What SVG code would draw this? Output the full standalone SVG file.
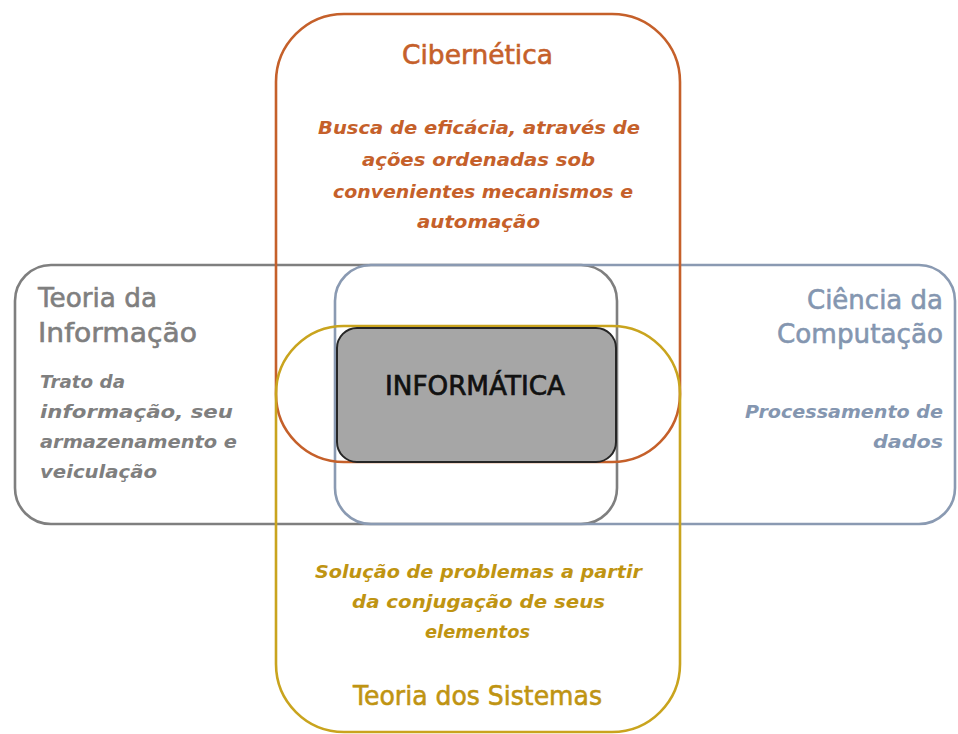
<svg xmlns="http://www.w3.org/2000/svg" width="958" height="734" viewBox="0 0 958 734">
<style>
.t{font-family:"DejaVu Sans","Liberation Sans",sans-serif;font-size:27px;stroke-width:0.6}
.d{font-family:"DejaVu Sans","Liberation Sans",sans-serif;font-size:18px;font-style:italic;font-weight:bold}
.shape{fill:none;stroke-width:2.6}
.or{fill:#C5602A;stroke:#C5602A}.go{fill:#BF9412;stroke:#BF9412}.gr{fill:#7F7F7F;stroke:#7F7F7F}.bl{fill:#8496B0;stroke:#8496B0}
.d.or,.d.go,.d.gr,.d.bl{stroke:none}
</style>
<rect width="958" height="734" fill="#ffffff"/>
<g id="teoria-informacao">
<rect class="shape" x="15" y="265" width="602" height="259" rx="36" stroke="#7F7F7F"/>
<text class="t gr" x="38" y="307" textLength="119" lengthAdjust="spacingAndGlyphs">Teoria da</text>
<text class="t gr" x="38" y="342" textLength="159" lengthAdjust="spacingAndGlyphs">Informação</text>
<text class="d gr" x="40" y="388" textLength="85" lengthAdjust="spacingAndGlyphs">Trato da</text>
<text class="d gr" x="40" y="418" textLength="193" lengthAdjust="spacingAndGlyphs">informação, seu</text>
<text class="d gr" x="40" y="448" textLength="197" lengthAdjust="spacingAndGlyphs">armazenamento e</text>
<text class="d gr" x="40" y="478" textLength="117" lengthAdjust="spacingAndGlyphs">veiculação</text>
</g>
<g id="ciencia-computacao">
<rect class="shape" x="335" y="265" width="620" height="259" rx="36" stroke="#8A9AB2"/>
<text class="t bl" x="943" y="309" text-anchor="end" textLength="136" lengthAdjust="spacingAndGlyphs">Ciência da</text>
<text class="t bl" x="943" y="343" text-anchor="end" textLength="166" lengthAdjust="spacingAndGlyphs">Computação</text>
<text class="d bl" x="943" y="418" text-anchor="end" textLength="198" lengthAdjust="spacingAndGlyphs">Processamento de</text>
<text class="d bl" x="943" y="448" text-anchor="end" textLength="70" lengthAdjust="spacingAndGlyphs">dados</text>
</g>
<g id="cibernetica">
<rect class="shape" x="276" y="14" width="404" height="448" rx="68" stroke="#C5602A"/>
<text class="t or" x="477.5" y="64" text-anchor="middle" textLength="151" lengthAdjust="spacingAndGlyphs">Cibernética</text>
<text class="d or" x="479" y="134" text-anchor="middle" textLength="322" lengthAdjust="spacingAndGlyphs">Busca de eficácia, através de</text>
<text class="d or" x="478.5" y="166" text-anchor="middle" textLength="233" lengthAdjust="spacingAndGlyphs">ações ordenadas sob</text>
<text class="d or" x="483" y="198" text-anchor="middle" textLength="300" lengthAdjust="spacingAndGlyphs">convenientes mecanismos e</text>
<text class="d or" x="478.5" y="228" text-anchor="middle" textLength="123" lengthAdjust="spacingAndGlyphs">automação</text>
</g>
<g id="teoria-sistemas">
<rect class="shape" x="276" y="326" width="404" height="406" rx="68" stroke="#C9A41E"/>
<text class="d go" x="478.5" y="578" text-anchor="middle" textLength="327" lengthAdjust="spacingAndGlyphs">Solução de problemas a partir</text>
<text class="d go" x="478.5" y="608" text-anchor="middle" textLength="253" lengthAdjust="spacingAndGlyphs">da conjugação de seus</text>
<text class="d go" x="477.5" y="638" text-anchor="middle" textLength="105" lengthAdjust="spacingAndGlyphs">elementos</text>
<text class="t go" x="477.5" y="705" text-anchor="middle" textLength="249" lengthAdjust="spacingAndGlyphs">Teoria dos Sistemas</text>
</g>
<g id="informatica">
<rect x="337" y="328" width="279" height="134" rx="20" fill="#A6A6A6" stroke="#262626" stroke-width="2"/>
<text x="475" y="395" text-anchor="middle" font-family="DejaVu Sans, Liberation Sans, sans-serif" font-size="26" fill="#111111" stroke="#111111" stroke-width="0.7" textLength="180" lengthAdjust="spacingAndGlyphs">INFORMÁTICA</text>
</g>
<g id="connectors"/>
</svg>
